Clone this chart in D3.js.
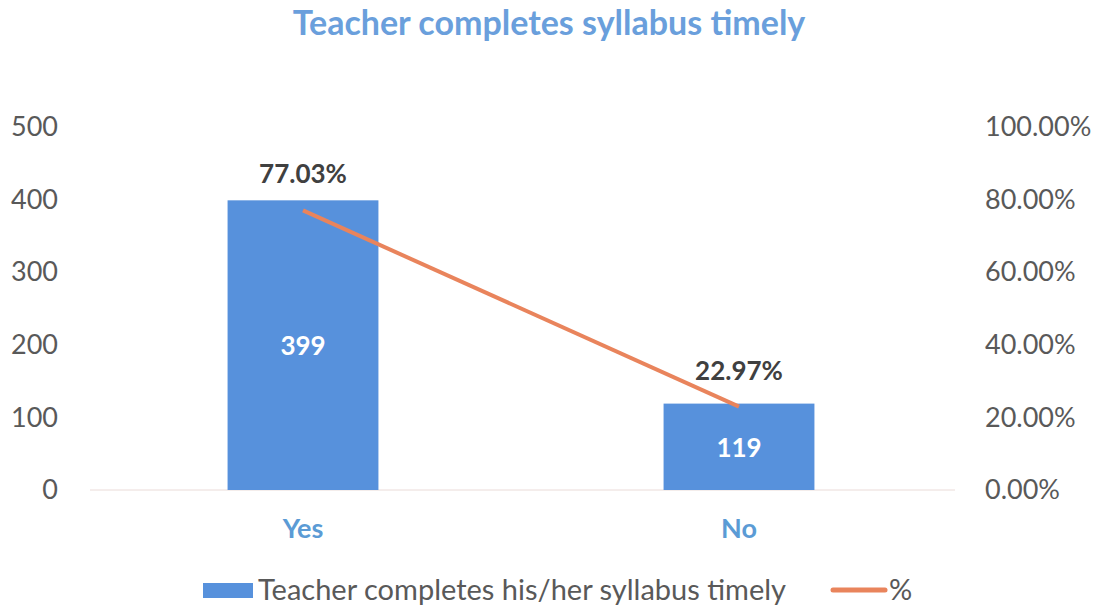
<!DOCTYPE html>
<html>
<head>
<meta charset="utf-8">
<script src="https://cdn.jsdelivr.net/npm/d3@7"></script>
<style>
  body { margin: 0; background: #fff; }
  text { font-family: Lato, "Open Sans", sans-serif; }
</style>
</head>
<body>
<div id="chart"></div>
<script>
  // chart data
  const categories = ['Yes', 'No'];
  const counts = [399, 119];
  const percents = [0.7703, 0.2297];
  const countTicks = [0, 100, 200, 300, 400, 500];
  const pctTicks = [0, 0.2, 0.4, 0.6, 0.8, 1.0];

  const W = 1098, H = 606;
  const blue = '#5791dc', orange = '#e9845c', grey = '#595959';

  let svg = d3.select('#chart').append('svg')
    .attr('width', W).attr('height', H);

  let x = d3.scaleBand().domain(categories).range([85, 957]).paddingInner(0.654).paddingOuter(0.327);
  let yL = d3.scaleLinear().domain([0, 500]).range([490, 127]);
  let yR = d3.scaleLinear().domain([0, 1]).range([490, 127]);

  // title
  svg.append('text')
    .attr('x', 549).attr('y', 35)
    .attr('text-anchor', 'middle')
    .style('font-size', '34px').style('font-weight', 'bold')
    .attr('fill', '#6a9fdc')
    .text('Teacher completes syllabus timely');

  // left axis
  let leftAxis = svg.append('g')
    .attr('transform', 'translate(58,0)')
    .call(d3.axisLeft(yL).tickValues(countTicks).tickSize(0).tickPadding(0));
  leftAxis.select('.domain').remove();
  leftAxis.selectAll('text').style('font-size', '27px').attr('fill', grey)
    .style('font-family', 'Lato, sans-serif');

  // right axis
  let rightAxis = svg.append('g')
    .attr('transform', 'translate(985,0)')
    .call(d3.axisRight(yR).tickValues(pctTicks).tickSize(0).tickPadding(0).tickFormat(d3.format('.2%')));
  rightAxis.select('.domain').remove();
  rightAxis.selectAll('text').style('font-size', '27px').attr('fill', grey)
    .style('font-family', 'Lato, sans-serif');

  // baseline
  svg.append('line')
    .attr('x1', 90).attr('x2', 955)
    .attr('y1', yL(0)).attr('y2', yL(0))
    .attr('stroke', '#eadbd8').attr('stroke-width', 1);

  // bars
  svg.selectAll('rect.bar')
    .data(counts).enter()
    .append('rect')
    .attr('class', 'bar')
    .attr('x', function(d, i) { return x(categories[i]); })
    .attr('width', x.bandwidth())
    .attr('y', function(d) { return yL(d); })
    .attr('height', function(d) { return yL(0) - yL(d); })
    .attr('fill', blue);

  // bar labels
  svg.selectAll('text.count')
    .data(counts).enter()
    .append('text')
    .attr('class', 'count')
    .attr('x', function(d, i) { return x(categories[i]) + x.bandwidth() / 2; })
    .attr('y', function(d) { return (yL(d) + yL(0)) / 2 + 10; })
    .attr('text-anchor', 'middle')
    .style('font-size', '26px').style('font-weight', 'bold')
    .attr('fill', '#fff')
    .text(function(d) { return d; });

  // percent line
  let line = d3.line()
    .x(function(d, i) { return x(categories[i]) + x.bandwidth() / 2; })
    .y(function(d) { return yR(d); });

  svg.append('path')
    .datum(percents)
    .attr('d', line)
    .attr('fill', 'none')
    .attr('stroke', orange)
    .attr('stroke-width', 4);

  svg.selectAll('text.pct')
    .data(percents).enter()
    .append('text')
    .attr('class', 'pct')
    .attr('x', function(d, i) { return x(categories[i]) + x.bandwidth() / 2; })
    .attr('y', function(d) { return yR(d) - 27; })
    .attr('text-anchor', 'middle')
    .style('font-size', '26px').style('font-weight', 'bold')
    .attr('fill', '#404040')
    .text(function(d) { return d3.format('.2%')(d); });

  // category labels
  svg.selectAll('text.cat')
    .data(categories).enter()
    .append('text')
    .attr('class', 'cat')
    .attr('x', function(d) { return x(d) + x.bandwidth() / 2; })
    .attr('y', 538)
    .attr('text-anchor', 'middle')
    .style('font-size', '27px').style('font-weight', 'bold')
    .attr('fill', '#5b9bd5')
    .text(function(d) { return d; });

  // legend
  let legend = svg.append('g');
  legend.append('rect')
    .attr('x', 203).attr('y', 583).attr('width', 50).attr('height', 15)
    .attr('fill', blue);
  legend.append('text')
    .attr('x', 258).attr('y', 600)
    .style('font-size', '29px').attr('fill', grey)
    .text('Teacher completes his/her syllabus timely');
  legend.append('line')
    .attr('x1', 833).attr('x2', 885).attr('y1', 590).attr('y2', 590)
    .attr('stroke', orange).attr('stroke-width', 5).attr('stroke-linecap', 'round');
  legend.append('text')
    .attr('x', 889).attr('y', 600)
    .style('font-size', '29px').attr('fill', grey)
    .text('%');
</script>
</body>
</html>
